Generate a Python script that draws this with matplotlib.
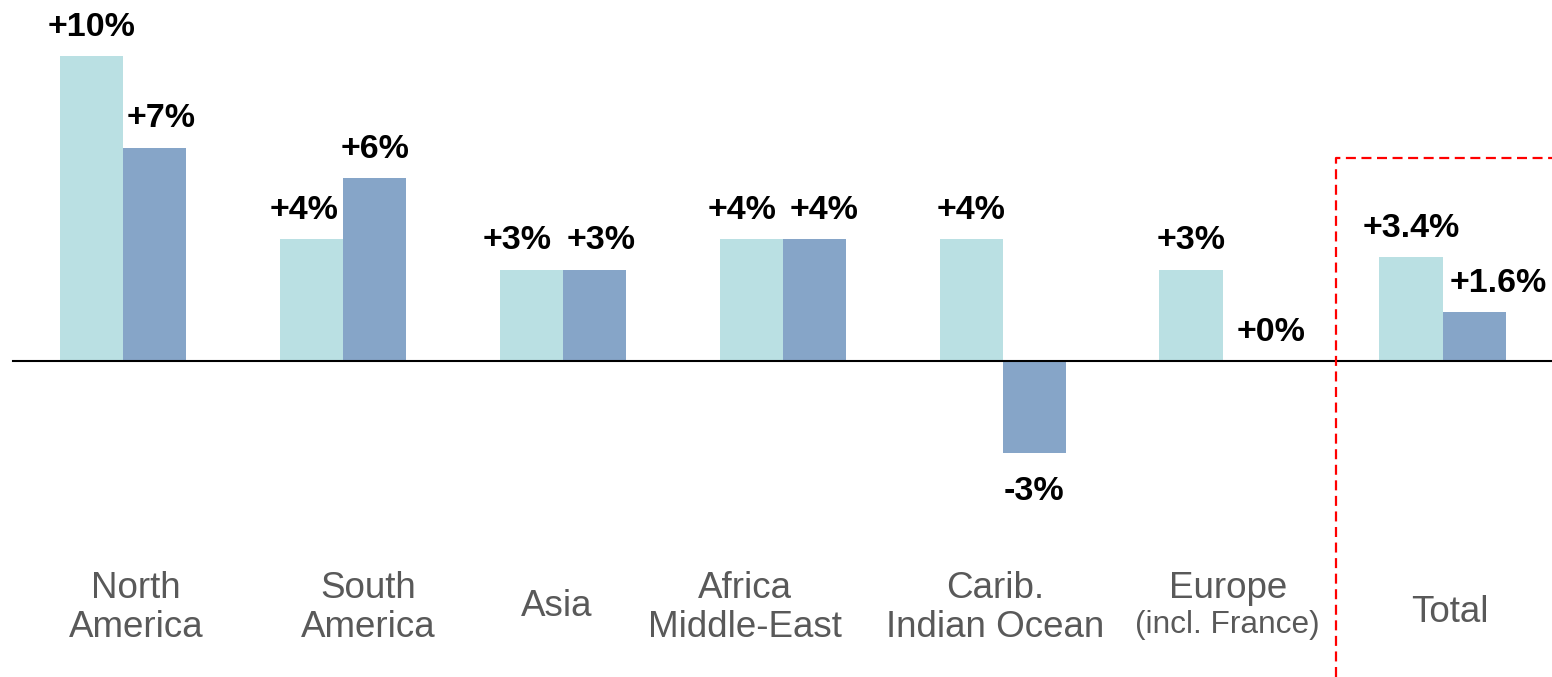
import numpy as np
import matplotlib.pyplot as plt

plt.rcParams['font.family'] = ['Liberation Sans', 'DejaVu Sans']

# Croissance par région : deux périodes
regions = ['North\nAmerica', 'South\nAmerica', 'Asia', 'Africa\nMiddle-East',
           'Carib.\nIndian Ocean', 'Europe', 'Total']
growth_a = [10, 4, 3, 4, 4, 3, 3.4]
growth_b = [7, 6, 3, 4, -3, 0, 1.6]
labels_a = ['+10%', '+4%', '+3%', '+4%', '+4%', '+3%', '+3.4%']
labels_b = ['+7%', '+6%', '+3%', '+4%', '-3%', '+0%', '+1.6%']

col_a = '#BAE0E3'
col_b = '#86A5C8'
grey = '#595959'

fig = plt.figure(figsize=(15.52, 6.77), dpi=100)
ax = fig.add_axes([0, 0, 1, 1])

x = np.arange(len(regions))
w = 0.2875
ax.bar(x - w / 2, growth_a, w, color=col_a)
ax.bar(x + w / 2, growth_b, w, color=col_b)

ax.set_xlim(-0.559, 6.497)
ax.set_ylim(-10.36, 11.84)
ax.axis('off')

# axe horizontal
ax.plot([-0.5, 6.497], [0, 0], color='black', lw=1.5, zorder=3)

# étiquettes de valeurs (décalage horizontal en px pour éviter les chevauchements)
shift_a = [0, -7, -14, -9, 0, 0, 0]
shift_b = [7, 1, 7, 10, 0, 17, 24]
pt = 72 / 100
for xs, vals, labs, sh in [(x - w / 2, growth_a, labels_a, shift_a),
                           (x + w / 2, growth_b, labels_b, shift_b)]:
    for xi, v, lab, s in zip(xs, vals, labs, sh):
        if v >= 0:
            ax.annotate(lab, (xi, v), xytext=(s * pt, 14.5), textcoords='offset points',
                        ha='center', va='baseline', fontsize=24.5, fontweight='bold')
        else:
            ax.annotate(lab, (xi, v), xytext=(s * pt, -17), textcoords='offset points',
                        ha='center', va='top', fontsize=24.5, fontweight='bold')

# noms des régions
name_dx = [0.059, 0.116, -0.030, -0.173, -0.036, 0.023, 0.034]
tr = ax.get_xaxis_transform()
for xi, name, dx in zip(x, regions, name_dx):
    if name == 'Europe':
        ax.text(xi + dx, 1 - 589 / 677, name, transform=tr, ha='center', va='center',
                fontsize=26.5, color=grey)
        ax.text(xi + dx, 1 - 625 / 677, '(incl. France)', transform=tr, ha='center',
                va='center', fontsize=22.8, color=grey)
    elif name == 'Total':
        ax.text(xi + dx, 1 - 612 / 677, name, transform=tr, ha='center', va='center',
                fontsize=26.5, color=grey)
    elif '\n' in name:
        ax.text(xi + dx, 1 - 608 / 677, name, transform=tr, ha='center', va='center',
                fontsize=26.5, color=grey, linespacing=1.12, multialignment='center')
    else:
        ax.text(xi + dx, 1 - 607 / 677, name, transform=tr, ha='center', va='center',
                fontsize=26.5, color=grey)

# cadre pointillé autour du total
xb = 5.516
ax.plot([xb, xb, 6.497], [-10.36, 6.66, 6.66], color='#FF0000', lw=1.6,
        linestyle=(0, (4.5, 2.5)), zorder=4, clip_on=False)

fig.savefig('out.png', dpi=100)
